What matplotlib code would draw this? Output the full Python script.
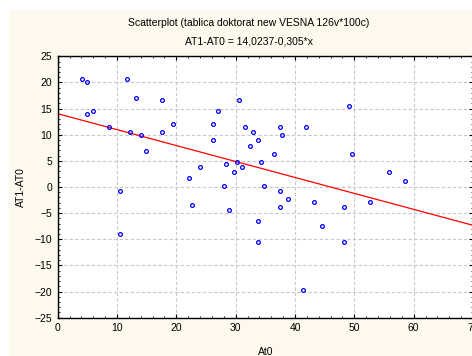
import numpy as np
import matplotlib
matplotlib.use("Agg")
import matplotlib.pyplot as plt
from matplotlib.patches import Rectangle
from matplotlib.ticker import MultipleLocator

plt.rcParams['font.family'] = ['Liberation Sans', 'DejaVu Sans']

# data
at0 = [4.15, 4.99, 11.73, 13.15, 17.58, 4.99, 5.95, 30.61, 27.02, 8.60,
       19.38, 26.18, 31.52, 12.24, 14.04, 17.58, 32.92, 26.18, 33.76, 32.36,
       14.88, 34.22, 30.17, 28.37, 31.06, 23.93, 29.77, 22.13, 27.98, 34.69,
       10.42, 49.10, 37.42, 41.85, 37.86, 36.51, 49.55, 55.79, 58.54, 37.42,
       22.59, 28.84, 33.78, 10.42, 33.78, 38.77, 37.42, 43.20, 48.20, 52.64,
       44.55, 48.20, 41.40]
diff = [20.66, 20.14, 20.66, 17.08, 16.58, 14.02, 14.54, 16.58, 14.54, 11.48,
        11.99, 11.99, 11.48, 10.46, 9.95, 10.46, 10.46, 8.93, 8.93, 7.90,
        6.89, 4.84, 4.84, 4.34, 3.83, 3.83, 2.81, 1.78, 0.25, 0.25,
        -0.77, 15.55, 11.48, 11.48, 9.95, 6.37, 6.37, 2.81, 1.24, -0.77,
        -3.35, -4.36, -6.41, -8.93, -10.48, -2.33, -3.86, -2.83, -3.86, -2.83,
        -7.42, -10.48, -19.66]

intercept = 14.0237
slope = -0.305

fig = plt.figure(figsize=(4.72, 3.56), dpi=100, facecolor='white')
# cream panel behind the chart (white strip left and top)
fig.patches.append(Rectangle((9 / 472, 0), 1, 346 / 356, transform=fig.transFigure,
                             facecolor='#fef9ee', edgecolor='none', zorder=-5))

ax = fig.add_axes([57.7 / 472, 38.3 / 356, 415.3 / 472, 261.4 / 356])
ax.set_facecolor('white')

ax.plot(at0, diff, 'o', ms=2.7, mfc='none', mec='#0000ff', mew=0.9, zorder=3)
xs = np.array([0, 70])
ax.plot(xs, intercept + slope * xs, color='#ff0000', lw=0.9, zorder=2)

ax.set_xlim(0, 70)
ax.set_ylim(-25, 25)
ax.xaxis.set_major_locator(MultipleLocator(10))
ax.xaxis.set_minor_locator(MultipleLocator(2))
ax.yaxis.set_major_locator(MultipleLocator(5))
ax.yaxis.set_minor_locator(MultipleLocator(1))
ax.grid(True, which='major', color='#c8c8c8', ls=(0, (3, 2)), lw=0.8)
ax.set_axisbelow(True)

ax.tick_params(which='both', direction='in', top=True, right=True,
               labelsize=7.5, colors='black', pad=4)
ax.tick_params(which='major', length=3, width=0.8)
ax.tick_params(which='minor', length=1.5, width=0.6)
for s in ax.spines.values():
    s.set_linewidth(1.0)

ax.set_xlabel('At0', fontsize=7.5, labelpad=10)
ax.set_ylabel('AT1-AT0', fontsize=7.5, labelpad=6)

fig.text(249 / 472, 1 - 23 / 356, 'Scatterplot (tablica doktorat new VESNA 126v*100c)',
         ha='center', va='center', fontsize=7.5)
fig.text(249 / 472, 1 - 42 / 356, 'AT1-AT0 = 14,0237-0,305*x',
         ha='center', va='center', fontsize=7.5)

fig.savefig('out.png', dpi=100, facecolor=fig.get_facecolor())
